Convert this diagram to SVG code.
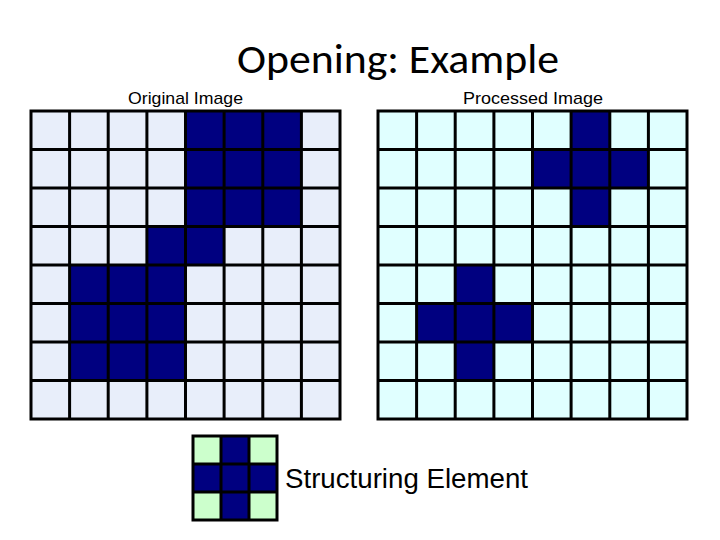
<svg xmlns="http://www.w3.org/2000/svg" width="720" height="540" viewBox="0 0 720 540">
<style>
.t{font-family:"Liberation Sans",Arial,sans-serif;fill:#000}
.ttl{font-family:Carlito,"Open Sans","Liberation Sans",sans-serif;fill:#000}
.d{fill:#000080}
.g{stroke:#000;stroke-width:3;fill:none}
</style>
<rect width="720" height="540" fill="#fff"/>
<text class="ttl" x="398" y="73" font-size="40" text-anchor="middle" textLength="322" lengthAdjust="spacingAndGlyphs">Opening: Example</text>
<text class="t" x="128" y="104" font-size="17" textLength="115" lengthAdjust="spacingAndGlyphs">Original Image</text>
<text class="t" x="463" y="104" font-size="17" textLength="140" lengthAdjust="spacingAndGlyphs">Processed Image</text>
<g id="original">
<rect x="31" y="111" width="309" height="308" fill="#E8EEFA"/>
<g class="d">
<rect x="185.5" y="111" width="116" height="115.5"/>
<rect x="147" y="226.5" width="77.2" height="38.5"/>
<rect x="69.6" y="265" width="115.9" height="115.5"/>
</g>
<g class="g">
<rect x="31" y="111" width="309" height="308"/>
<path d="M69.6 111V419M108.2 111V419M146.9 111V419M185.5 111V419M224.1 111V419M262.8 111V419M301.4 111V419M31 149.5H340M31 188H340M31 226.5H340M31 265H340M31 303.5H340M31 342H340M31 380.5H340"/>
</g>
</g>
<g id="processed">
<rect x="378" y="111" width="309" height="308" fill="#E0FFFF"/>
<g class="d">
<rect x="571.1" y="111" width="38.6" height="115.5"/>
<rect x="532.5" y="149.5" width="115.9" height="38.5"/>
<rect x="455.2" y="265" width="38.6" height="115.5"/>
<rect x="416.6" y="303.5" width="115.9" height="38.5"/>
</g>
<g class="g">
<rect x="378" y="111" width="309" height="308"/>
<path d="M416.6 111V419M455.2 111V419M493.9 111V419M532.5 111V419M571.1 111V419M609.8 111V419M648.4 111V419M378 149.5H687M378 188H687M378 226.5H687M378 265H687M378 303.5H687M378 342H687M378 380.5H687"/>
</g>
</g>
<g id="structuring-element">
<rect x="193" y="436" width="84" height="84" fill="#CCFFCC"/>
<g class="d">
<rect x="221" y="436" width="28" height="84"/>
<rect x="193" y="464" width="84" height="28"/>
</g>
<g class="g">
<rect x="193" y="436" width="84" height="84"/>
<path d="M221 436V520M249 436V520M193 464H277M193 492H277"/>
</g>
</g>
<text class="t" x="285" y="488" font-size="27.5" textLength="243" lengthAdjust="spacingAndGlyphs">Structuring Element</text>
<g id="connectors"/>
</svg>
